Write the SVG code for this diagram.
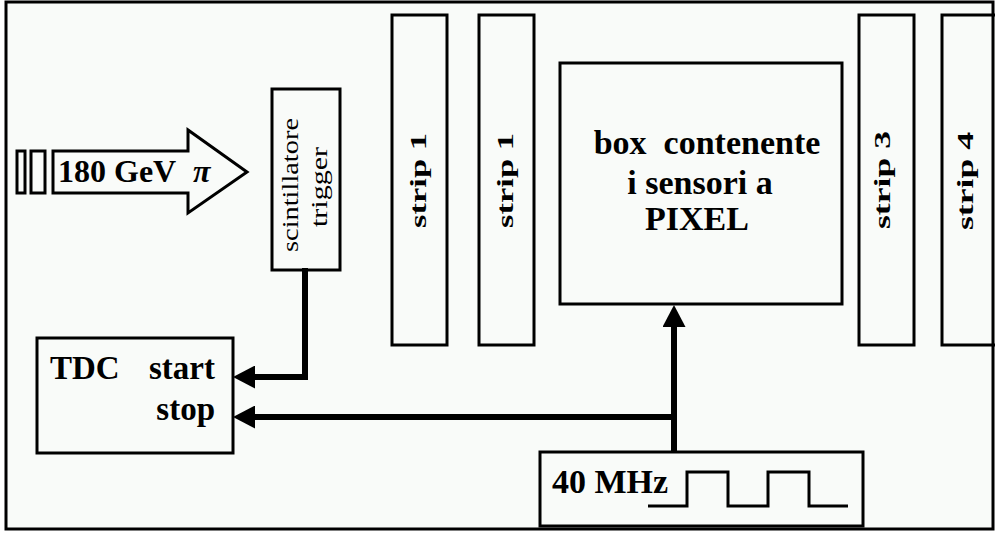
<svg xmlns="http://www.w3.org/2000/svg" width="995" height="538" viewBox="0 0 995 538">
<defs>
<style>
.box{fill:#f9fbf9;stroke:#000;stroke-width:3}
.bt{font-family:"Liberation Serif","Times New Roman",serif;font-weight:bold;fill:#000}
.rt{font-family:"Liberation Serif","Times New Roman",serif;fill:#000}
.conn{fill:none;stroke:#000;stroke-width:6;stroke-linejoin:miter;stroke-linecap:butt}
.wave{fill:none;stroke:#000;stroke-width:3}
</style>
<marker id="ah" viewBox="0 0 22 23" markerUnits="userSpaceOnUse" markerWidth="22" markerHeight="23" refX="0" refY="11.5" orient="auto">
<path d="M0,0 L22,11.5 L0,23 z" fill="#000"/>
</marker>
</defs>
<rect x="0" y="0" width="995" height="538" fill="#fff"/>
<rect x="6" y="2" width="987" height="527" fill="#f9fbf9"/>

<g id="beam">
<rect class="box" x="17" y="151" width="8" height="42"/>
<rect class="box" x="31" y="151" width="14" height="42"/>
<polygon class="box" points="53,151 188,151 188,130 247,172 188,213 188,193 53,193"/>
<text class="bt" x="58" y="182" font-size="32">180 GeV</text>
<text class="bt" x="193" y="182" font-size="32" font-style="italic">π</text>
</g>

<g id="scintillatore">
<rect class="box" x="272" y="89" width="68" height="181"/>
<text class="rt" font-size="23" text-anchor="middle" textLength="134" lengthAdjust="spacingAndGlyphs" transform="translate(297.5,185) rotate(-90)">scintillatore</text>
<text class="rt" font-size="23" text-anchor="middle" textLength="80" lengthAdjust="spacingAndGlyphs" transform="translate(327,187) rotate(-90)">trigger</text>
</g>

<g id="strip1a">
<rect class="box" x="392" y="15" width="55" height="330"/>
<text class="bt" font-size="24" text-anchor="middle" textLength="95" lengthAdjust="spacingAndGlyphs" transform="translate(425.5,180.5) rotate(-90)">strip 1</text>
</g>
<g id="strip1b">
<rect class="box" x="479" y="15" width="55" height="330"/>
<text class="bt" font-size="24" text-anchor="middle" textLength="95" lengthAdjust="spacingAndGlyphs" transform="translate(512.5,180.5) rotate(-90)">strip 1</text>
</g>
<g id="strip3">
<rect class="box" x="859" y="15" width="55" height="330"/>
<text class="bt" font-size="24" text-anchor="middle" textLength="98" lengthAdjust="spacingAndGlyphs" transform="translate(890,180) rotate(-90)">strip 3</text>
</g>
<g id="strip4">
<rect class="box" x="942" y="15" width="55" height="330"/>
<text class="bt" font-size="24" text-anchor="middle" textLength="98" lengthAdjust="spacingAndGlyphs" transform="translate(972.5,181) rotate(-90)">strip 4</text>
</g>

<g id="pixelbox">
<rect class="box" x="560" y="63" width="282" height="241"/>
<text class="bt" font-size="34" text-anchor="middle" xml:space="preserve" x="707" y="154">box  contenente</text>
<text class="bt" font-size="34" text-anchor="middle" x="700" y="194">i sensori a</text>
<text class="bt" font-size="34" text-anchor="middle" x="697" y="230">PIXEL</text>
</g>

<g id="tdc">
<rect class="box" x="37" y="338" width="196" height="115"/>
<text class="bt" font-size="33" x="50" y="379">TDC</text>
<text class="bt" font-size="33" text-anchor="end" x="215" y="379">start</text>
<text class="bt" font-size="33" text-anchor="end" x="215" y="420">stop</text>
</g>

<g id="clock">
<rect class="box" x="540" y="452" width="323" height="74"/>
<text class="bt" font-size="34" x="552" y="493">40 MHz</text>
<polyline class="wave" points="648,506 687,506 687,472 728,472 728,506 768,506 768,472 809,472 809,506 848,506"/>
</g>

<g id="connectors">
<path class="conn" d="M305,268 V377 H255" marker-end="url(#ah)"/>
<path class="conn" d="M674,417 H255" marker-end="url(#ah)"/>
<path class="conn" d="M674,451 V327" marker-end="url(#ah)"/>
</g>

<rect id="frame" x="6" y="2" width="987" height="527" fill="none" stroke="#000" stroke-width="3"/>
</svg>
